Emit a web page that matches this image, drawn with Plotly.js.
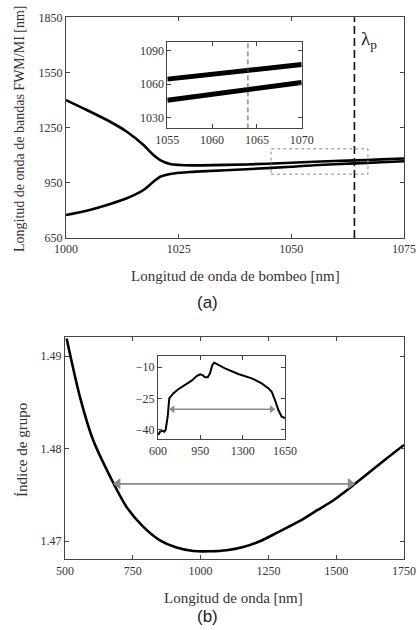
<!DOCTYPE html>
<html><head><meta charset="utf-8">
<script src="https://cdn.plot.ly/plotly-3.0.1.min.js"></script>
<style>html,body{margin:0;padding:0;background:#fff}#c{width:417px;height:630px}</style>
</head><body><div id="c"></div>
<script>
// ---- (a) main: FWM/MI band wavelength vs pump wavelength ----
const pumpUpper = [1000, 1004.6, 1009.8, 1013.5, 1017.2, 1019.4, 1020.9, 1023.1, 1025.3, 1027.5, 1030, 1040, 1050, 1055, 1064, 1070, 1075];
const bandUpper = [1400, 1346, 1282, 1228, 1156, 1101, 1074, 1052, 1047, 1045, 1045, 1050, 1059, 1064.5, 1072, 1077.5, 1082];
const pumpLower = [1000, 1004.6, 1009.8, 1013.5, 1017.2, 1019.4, 1020.9, 1023.1, 1025.3, 1027.5, 1030, 1040, 1050, 1055, 1064, 1070, 1075];
const bandLower = [775, 798, 835, 866, 911, 956, 983, 998, 1005, 1009, 1012, 1024, 1037, 1045.6, 1055.6, 1061.5, 1067];
const lambdaP = 1064;
const zoomBox = {x: [1045.5, 1067], y: [997, 1135]};
// (a) inset
const insetPump = [1055, 1058, 1061, 1064, 1067, 1070];
const insetUpper = [1064.5, 1067, 1069.5, 1072, 1074.8, 1077.5];
const insetLower = [1045.6, 1049, 1052.3, 1055.6, 1058.6, 1061.5];

// ---- (b) main: group index vs wavelength ----
const wl = [506, 555, 604, 666, 727, 789, 850, 911, 973, 1035, 1096, 1157, 1219, 1280, 1366, 1430, 1489, 1530, 1569, 1612, 1680, 1750];
const groupIndex = [1.4919, 1.4856, 1.4809, 1.4770, 1.4737, 1.47155, 1.4701, 1.46932, 1.46895, 1.46892, 1.46903, 1.46938, 1.4700, 1.4709, 1.4722, 1.47335, 1.4744, 1.4753, 1.4762, 1.4772, 1.4788, 1.4804];
const bandArrowX = [695, 1552];
const bandArrowY = [1.4762, 1.4762];
// (b) inset spectrum
const specWl = [602, 616, 636, 652, 663, 680, 693, 726, 768, 823, 878, 920, 947, 966, 989, 1011, 1030, 1049, 1065, 1154, 1264, 1375, 1457, 1512, 1540, 1567, 1595, 1623, 1644, 1650];
const specDb = [-42.4, -40.9, -40.4, -40.9, -40, -33.7, -24.9, -22.5, -20.5, -18.5, -16.4, -14.2, -13.4, -13.7, -14.8, -14.8, -12.9, -8.9, -7.8, -10.5, -13.2, -15.3, -17.7, -20, -21.7, -25.7, -30.5, -33.7, -34.4, -34.4];
const specArrowX = [720, 1541];
const specArrowY = [-30.1, -30.1];

const W = 417, H = 630;
const px = v => v / W, py = v => 1 - v / H;
const SERIF = 'Liberation Serif, Times New Roman, serif';
const SANS = 'Liberation Sans, Arial, sans-serif';
const frame = {showline: true, mirror: 'ticks', linecolor: '#444', linewidth: 1, ticks: 'inside', ticklen: 4, tickcolor: '#444', showgrid: false, zeroline: false, tickfont: {family: SERIF, size: 12, color: '#333'}};

const traces = [
  {x: pumpUpper, y: bandUpper, xaxis: 'x', yaxis: 'y', mode: 'lines', line: {color: '#000', width: 2.6, shape: 'spline', smoothing: 0.8}},
  {x: pumpLower, y: bandLower, xaxis: 'x', yaxis: 'y', mode: 'lines', line: {color: '#000', width: 2.6, shape: 'spline', smoothing: 0.8}},
  {x: insetPump, y: insetUpper, xaxis: 'x2', yaxis: 'y2', mode: 'lines', line: {color: '#000', width: 5}},
  {x: insetPump, y: insetLower, xaxis: 'x2', yaxis: 'y2', mode: 'lines', line: {color: '#000', width: 5}},
  {x: wl, y: groupIndex, xaxis: 'x3', yaxis: 'y3', mode: 'lines', line: {color: '#000', width: 2.6, shape: 'spline', smoothing: 0.8}},
  {x: bandArrowX, y: bandArrowY, xaxis: 'x3', yaxis: 'y3', mode: 'lines+markers', line: {color: '#8a8a8a', width: 1.6}, marker: {symbol: ['triangle-left', 'triangle-right'], size: 10, color: '#8a8a8a'}},
  {x: specWl, y: specDb, xaxis: 'x4', yaxis: 'y4', mode: 'lines', line: {color: '#000', width: 2}},
  {x: specArrowX, y: specArrowY, xaxis: 'x4', yaxis: 'y4', mode: 'lines+markers', line: {color: '#8a8a8a', width: 1.3}, marker: {symbol: ['triangle-left', 'triangle-right'], size: 7, color: '#8a8a8a'}}
];

const ann = (x, y, text, size, font, extra) => Object.assign({xref: 'paper', yref: 'paper', x: x, y: y, text: text, showarrow: false, xanchor: 'center', yanchor: 'middle', font: {family: font, size: size, color: '#333'}}, extra || {});

const layout = {
  width: W, height: H, margin: {l: 0, r: 0, t: 0, b: 0}, showlegend: false,
  paper_bgcolor: '#fff', plot_bgcolor: 'rgba(0,0,0,0)',
  xaxis: Object.assign({}, frame, {domain: [px(66), px(404)], range: [1000, 1075], tickvals: [1000, 1025, 1050, 1075], anchor: 'y'}),
  yaxis: Object.assign({}, frame, {domain: [py(238), py(17.3)], range: [650, 1850], tickvals: [650, 950, 1250, 1550, 1850], anchor: 'x'}),
  xaxis2: Object.assign({}, frame, {domain: [px(167.3), px(301.7)], range: [1055, 1070], tickvals: [1055, 1060, 1065, 1070], anchor: 'y2'}),
  yaxis2: Object.assign({}, frame, {domain: [py(128.3), py(41.7)], range: [1020.5, 1098], tickvals: [1030, 1060, 1090], anchor: 'x2'}),
  xaxis3: Object.assign({}, frame, {domain: [px(65), px(404)], range: [500, 1750], tickvals: [500, 750, 1000, 1250, 1500, 1750], anchor: 'y3'}),
  yaxis3: Object.assign({}, frame, {domain: [py(559.3), py(337.3)], range: [1.46805, 1.49203], tickvals: [1.47, 1.48, 1.49], ticktext: ['1.47', '1.48', '1.49'], anchor: 'x3'}),
  xaxis4: Object.assign({}, frame, {domain: [px(158), px(285)], range: [600, 1650], tickvals: [600, 950, 1300, 1650], anchor: 'y4'}),
  yaxis4: Object.assign({}, frame, {domain: [py(439.3), py(356)], range: [-44.5, -4.6], tickvals: [-40, -25, -10], anchor: 'x4'}),
  shapes: [
    {type: 'line', xref: 'x', yref: 'y domain', x0: lambdaP, x1: lambdaP, y0: 0, y1: 1, line: {color: '#111', width: 1.6, dash: '8px,4px'}},
    {type: 'rect', xref: 'x', yref: 'y', x0: zoomBox.x[0], x1: zoomBox.x[1], y0: zoomBox.y[0], y1: zoomBox.y[1], line: {color: '#888', width: 1, dash: 'dot'}},
    {type: 'line', xref: 'x2', yref: 'y2 domain', x0: lambdaP, x1: lambdaP, y0: 0, y1: 1, line: {color: '#555', width: 1, dash: '5px,3px'}}
  ],
  annotations: [
    ann(px(359), py(40), 'λ<sub>p</sub>', 19, SERIF, {xanchor: 'left', font: {family: SERIF, size: 19, color: '#222'}}),
    ann(px(235), py(276), 'Longitud de onda de bombeo [nm]', 15, SERIF),
    ann(px(20), py(129), 'Longitud de onda de bandas FWM/MI [nm]', 14, SERIF, {textangle: -90}),
    ann(px(207), py(302), '(a)', 17, SANS, {font: {family: SANS, size: 17, color: '#222'}}),
    ann(px(233), py(598), 'Longitud de onda [nm]', 15, SERIF),
    ann(px(22), py(450), 'Índice de grupo', 15, SERIF, {textangle: -90}),
    ann(px(207), py(616), '(b)', 17, SANS, {font: {family: SANS, size: 17, color: '#222'}})
  ]
};
Plotly.newPlot('c', traces, layout, {staticPlot: true, displayModeBar: false});
</script></body></html>
